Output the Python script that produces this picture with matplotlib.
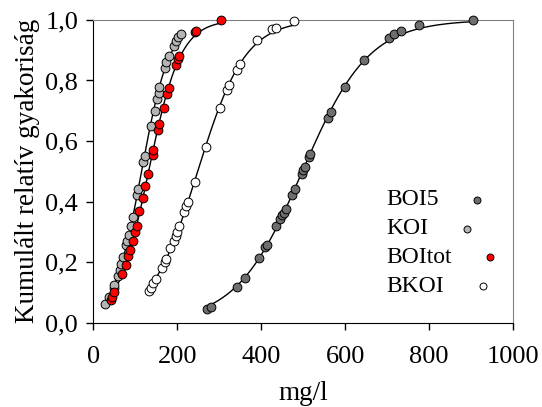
import numpy as np
import matplotlib
matplotlib.use("Agg")
import matplotlib.pyplot as plt

plt.rcParams['font.family'] = ['Liberation Serif', 'DejaVu Serif']

# cumulative relative frequency data (x in mg/l, y fraction)
boi5_x = [270, 280, 342, 360, 394, 410, 414, 435, 444, 449, 453, 458, 472, 480,
          496, 500, 504, 513, 517, 558, 566, 599, 644, 704, 716, 733, 775, 905]
boi5_y = [0.044, 0.050, 0.118, 0.148, 0.214, 0.249, 0.256, 0.318, 0.343, 0.354,
          0.362, 0.376, 0.420, 0.441, 0.492, 0.503, 0.514, 0.547, 0.558, 0.677,
          0.696, 0.779, 0.867, 0.941, 0.952, 0.965, 0.983, 1.0]

koi_x = [28, 38, 48, 50, 58, 62, 66, 71, 77, 81, 84, 89, 94, 104, 105, 118, 122,
         136, 146, 151, 155, 157, 171, 174, 179, 192, 196, 202, 209]
koi_y = [0.06, 0.085, 0.115, 0.125, 0.155, 0.175, 0.195, 0.215, 0.255, 0.27, 0.29,
         0.32, 0.35, 0.42, 0.44, 0.53, 0.55, 0.65, 0.70, 0.74, 0.76, 0.78, 0.84,
         0.86, 0.88, 0.915, 0.93, 0.945, 0.955]

boitot_x = [41, 44, 50, 68, 77, 82, 87, 93, 99, 103, 109, 117, 123, 130, 141, 143,
            153, 156, 167, 175, 179, 196, 201, 204, 241, 245, 304]
boitot_y = [0.075, 0.085, 0.10, 0.16, 0.19, 0.22, 0.24, 0.27, 0.30, 0.32, 0.37,
            0.41, 0.45, 0.49, 0.555, 0.57, 0.635, 0.655, 0.71, 0.755, 0.775, 0.85,
            0.87, 0.88, 0.96, 0.965, 1.0]

bkoi_x = [132, 137, 142, 148, 163, 171, 173, 183, 192, 196, 198, 204, 216, 221,
          226, 241, 268, 301, 318, 323, 341, 349, 390, 426, 435, 477]
bkoi_y = [0.105, 0.115, 0.13, 0.145, 0.18, 0.20, 0.21, 0.245, 0.27, 0.285, 0.30,
          0.32, 0.365, 0.385, 0.40, 0.465, 0.58, 0.71, 0.77, 0.785, 0.835, 0.855,
          0.935, 0.97, 0.975, 0.995]

series = [
    ("BOI5", boi5_x, boi5_y, "#6e6e6e"),
    ("KOI", koi_x, koi_y, "#b4b4b4"),
    ("BOItot", boitot_x, boitot_y, "#ff0000"),
    ("BKOI", bkoi_x, bkoi_y, "#ffffff"),
]


def logistic_fit(x, y):
    # weighted linear fit on the logit, like a simple sigmoid regression
    x = np.asarray(x, float)
    y = np.asarray(y, float)
    m = (y > 0) & (y < 1)
    z = np.log(y[m] / (1 - y[m]))
    b, a = np.polyfit(x[m], z, 1, w=y[m] * (1 - y[m]))
    return lambda t: 1 / (1 + np.exp(-(a + b * t)))


fig = plt.figure(figsize=(5.42, 4.07), dpi=100)
ax = fig.add_axes([0.1725, 0.2075, 0.774, 0.7435])

for name, xs, ys, col in series:
    f = logistic_fit(xs, ys)
    t = np.linspace(min(xs), max(xs), 200)
    ax.plot(t, f(t), color='black', lw=1.0, zorder=2)
for name, xs, ys, col in series:
    ax.scatter(xs, ys, s=40, facecolor=col, edgecolor='black', linewidth=0.7,
               zorder=3, clip_on=False)

ax.set_xlim(0, 1000)
ax.set_ylim(0, 1.0)
ax.set_xticks(range(0, 1001, 200))
ax.set_yticks(np.arange(0, 1.01, 0.2))
ax.set_yticklabels([f"{v:.1f}".replace('.', ',') for v in np.arange(0, 1.01, 0.2)])
ax.tick_params(direction='out', length=5, width=1, labelsize=19, top=False, right=False)
ax.tick_params(axis='x', pad=12)
ax.tick_params(axis='y', pad=6)
for s in ['top', 'right']:
    ax.spines[s].set_color('#808080')
ax.set_xlabel('mg/l', fontsize=19.5, labelpad=9)
ax.set_ylabel('Kumulált relatív gyakoriság', fontsize=19.5, labelpad=4)

# legend: labels with the marker placed after the text
fig.canvas.draw()
renderer = fig.canvas.get_renderer()
inv = ax.transAxes.inverted()
row_y = [0.405, 0.31, 0.215, 0.12]
for (name, xs, ys, col), yy in zip(series, row_y):
    txt = ax.text(0.697, yy, name, transform=ax.transAxes, fontsize=17,
                  va='center', ha='left')
    bb = txt.get_window_extent(renderer)
    mx, my = inv.transform((bb.x1 + 39, (bb.y0 + bb.y1) / 2))
    ax.plot([mx], [yy], 'o', ms=5, mfc=col, mec='black', mew=0.7,
            transform=ax.transAxes, clip_on=False)

fig.savefig('out.png', dpi=100)
